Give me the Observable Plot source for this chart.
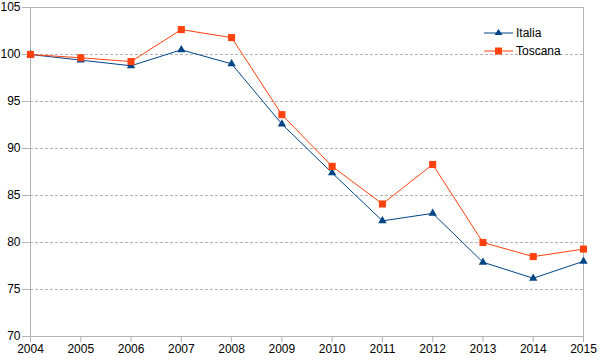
<!DOCTYPE html>
<html>
<head>
<meta charset="utf-8">
<script src="https://cdn.jsdelivr.net/npm/d3@7"></script>
<script src="https://cdn.jsdelivr.net/npm/@observablehq/plot@0.6"></script>
<style>
  html, body { margin: 0; padding: 0; background: #fff; }
  #wrap { position: relative; width: 601px; height: 360px; font-family: "Liberation Sans", Arial, sans-serif; }
  #legend { position: absolute; left: 484px; top: 24px; font-size: 12px; color: #000; }
  .row { display: flex; align-items: center; height: 18px; }
  .row svg { margin-right: 3px; }
</style>
</head>
<body>
<div id="wrap"></div>
<script>
const years = [2004, 2005, 2006, 2007, 2008, 2009, 2010, 2011, 2012, 2013, 2014, 2015];
const italia = [100, 99.4, 98.8, 100.5, 99.0, 92.6, 87.4, 82.3, 83.1, 77.9, 76.2, 78.0];
const toscana = [100, 99.65, 99.25, 102.65, 101.8, 93.6, 88.1, 84.1, 88.3, 80.0, 78.5, 79.3];
const seriesNames = ["Italia", "Toscana"];
const seriesColors = ["#004586", "#ff420e"];
const yTicks = [70, 75, 80, 85, 90, 95, 100, 105];

const dataI = years.map((y, i) => ({year: y, value: italia[i]}));
const dataT = years.map((y, i) => ({year: y, value: toscana[i]}));

const chart = Plot.plot({
  width: 601,
  height: 360,
  marginLeft: 30,
  marginRight: 18,
  marginTop: 7,
  marginBottom: 24,
  style: {fontFamily: "Liberation Sans, Arial, sans-serif", fontSize: "12px", color: "#000", background: "#fff"},
  x: {domain: [2004, 2015]},
  y: {domain: [70, 105]},
  marks: [
    Plot.gridY(yTicks.filter(t => t > 70 && t < 105), {stroke: "#b3b3b3", strokeOpacity: 1, strokeDasharray: "3,2"}),
    Plot.frame({stroke: "#b3b3b3"}),
    Plot.axisY(yTicks, {tickSize: 8, tickPadding: 2, stroke: "#b3b3b3", fill: "#000", label: null}),
    Plot.axisX(years, {tickSize: 6, tickPadding: 2, stroke: "#b3b3b3", fill: "#000", tickFormat: d => String(d), label: null}),
    Plot.line(dataI, {x: "year", y: "value", stroke: seriesColors[0], strokeWidth: 1}),
    Plot.line(dataT, {x: "year", y: "value", stroke: seriesColors[1], strokeWidth: 1}),
    Plot.dot(dataI, {x: "year", y: "value", symbol: "triangle", r: 3.1, fill: seriesColors[0], stroke: "none"}),
    Plot.dot(dataT, {x: "year", y: "value", symbol: "square", r: 4, fill: seriesColors[1], stroke: "none"})
  ]
});
const wrap = document.getElementById("wrap");
wrap.appendChild(chart);

const legend = document.createElement("div");
legend.id = "legend";
const symbols = [
  '<path d="M14,5 L18,11 L10,11 Z" />',
  '<rect x="10.5" y="5.5" width="7" height="7" />'
];
seriesNames.forEach((name, i) => {
  const row = document.createElement("div");
  row.className = "row";
  row.innerHTML = `<svg width="29" height="18"><line x1="0" x2="29" y1="9" y2="9" stroke="${seriesColors[i]}" stroke-width="1"/><g fill="${seriesColors[i]}" transform="translate(0.5,0)">${symbols[i]}</g></svg><span>${name}</span>`;
  legend.appendChild(row);
});
wrap.appendChild(legend);
</script>
</body>
</html>
